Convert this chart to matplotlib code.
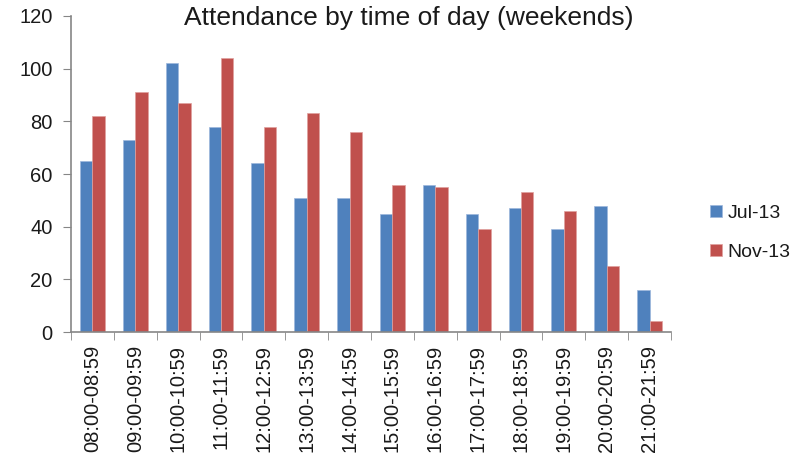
import matplotlib
matplotlib.use("Agg")
import matplotlib.pyplot as plt
import numpy as np

categories = ["08:00-08:59", "09:00-09:59", "10:00-10:59", "11:00-11:59", "12:00-12:59",
              "13:00-13:59", "14:00-14:59", "15:00-15:59", "16:00-16:59", "17:00-17:59",
              "18:00-18:59", "19:00-19:59", "20:00-20:59", "21:00-21:59"]
jul13 = [65, 73, 102, 78, 64, 51, 51, 45, 56, 45, 47, 39, 48, 16]
nov13 = [82, 91, 87, 104, 78, 83, 76, 56, 55, 39, 53, 46, 25, 4]
series_names = ["Jul-13", "Nov-13"]

plt.rcParams['font.family'] = ['Liberation Sans', 'DejaVu Sans']

fig = plt.figure(figsize=(8.03, 4.65), dpi=100)
ax = fig.add_axes([0.0884, 0.286, 0.7472, 0.6796])

x = np.arange(len(categories))
w = 0.29
ax.bar(x - w/2, jul13, w, color="#4F81BD", label=series_names[0], edgecolor="#9DB7DC", linewidth=0.5)
ax.bar(x + w/2, nov13, w, color="#C0504D", label=series_names[1], edgecolor="#E0A09E", linewidth=0.5)

ax.set_xlim(-0.5, len(categories) - 0.5)
ax.set_ylim(0, 120)
ax.set_yticks(range(0, 121, 20))
ax.tick_params(axis='y', labelsize=14.5, length=5.8, color="#868686", direction='out', pad=7.5,
               labelcolor="#1a1a1a")

ax.set_xticks(x)
ax.set_xticklabels(categories, rotation=90, fontsize=14.5, color="#1a1a1a")
ax.tick_params(axis='x', length=0, pad=9)
ax.set_xticks(np.arange(-0.5, len(categories)), minor=True)
ax.tick_params(axis='x', which='minor', length=6, color="#868686", direction='out')

for s in ['top', 'right']:
    ax.spines[s].set_visible(False)
for s in ['left', 'bottom']:
    ax.spines[s].set_color("#868686")
    ax.spines[s].set_linewidth(1.2)

fig.text(0.509, 0.946, "Attendance by time of day (weekends)", ha='center', va='baseline',
         fontsize=19, color="#1a1a1a")

leg = fig.legend(loc='center left', bbox_to_anchor=(0.863, 0.499), frameon=False, fontsize=14,
                 handlelength=0.57, handleheight=0.57, labelspacing=1.15, handletextpad=0.3)
for t in leg.get_texts():
    t.set_color("#1a1a1a")

fig.savefig("out.png", dpi=100)
